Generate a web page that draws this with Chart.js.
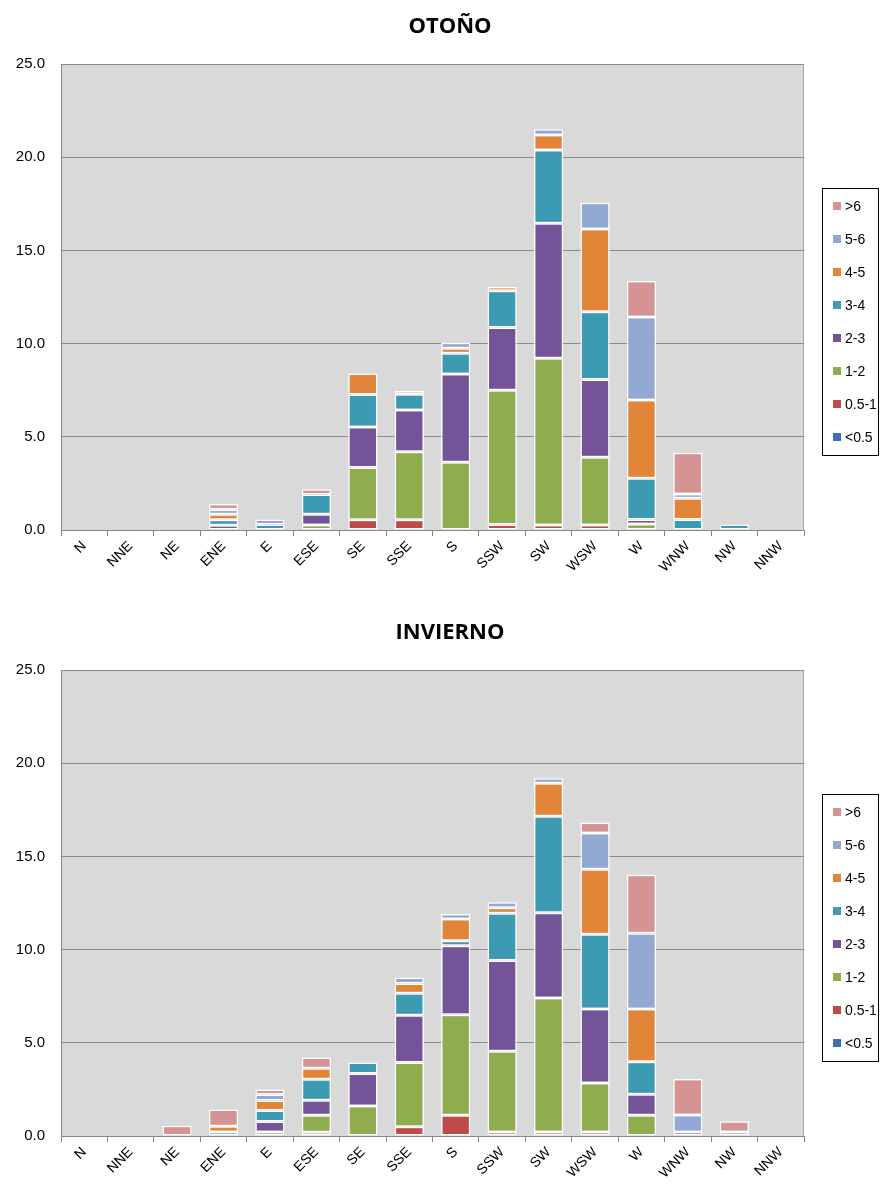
<!DOCTYPE html>
<html>
<head>
<meta charset="utf-8">
<script src="https://cdn.jsdelivr.net/npm/chart.js@4.4.1/dist/chart.umd.min.js"></script>
<style>
  body { margin: 0; background: #fff; width: 892px; height: 1190px; overflow: hidden; position: relative; }
  .panel { position: absolute; left: 0; width: 892px; height: 590px; }
  #otono-wrap { top: 0; }
  #invierno-wrap { top: 606px; }
</style>
</head>
<body>
<div class="panel" id="otono-wrap"><canvas id="otono-chart" width="892" height="590"></canvas></div>
<div class="panel" id="invierno-wrap"><canvas id="invierno-chart" width="892" height="590"></canvas></div>
<script>
// Wind directions (categories)
const directions = ['N', 'NNE', 'NE', 'ENE', 'E', 'ESE', 'SE', 'SSE', 'S', 'SSW', 'SW', 'WSW', 'W', 'WNW', 'NW', 'NNW'];

// Speed classes, bottom of the stack first
const speedClasses = ['<0.5', '0.5-1', '1-2', '2-3', '3-4', '4-5', '5-6', '>6'];
const classColors = ['#3f6fae', '#be4b48', '#8fad4f', '#735498', '#3c9ab3', '#e28538', '#93a9d3', '#d69393'];

// OTOÑO - frequency (%) per speed class
const otonoLt05 = [0, 0, 0, 0, 0, 0, 0, 0, 0, 0, 0, 0, 0, 0, 0, 0];
const otono05a1 = [0, 0, 0, 0, 0, 0, 0.55, 0.55, 0, 0.3, 0.27, 0.27, 0, 0, 0, 0];
const otono1a2 = [0, 0, 0, 0, 0, 0.27, 2.8, 3.65, 3.63, 7.2, 8.94, 3.63, 0.32, 0, 0, 0];
const otono2a3 = [0, 0, 0, 0.25, 0, 0.57, 2.18, 2.24, 4.74, 3.36, 7.24, 4.18, 0.25, 0, 0, 0];
const otono3a4 = [0, 0, 0, 0.3, 0.3, 1.07, 1.74, 0.84, 1.11, 1.97, 3.94, 3.63, 2.2, 0.57, 0.3, 0];
const otono4a5 = [0, 0, 0, 0.3, 0, 0, 1.13, 0.18, 0.27, 0.21, 0.8, 4.44, 4.2, 1.13, 0, 0];
const otono5a6 = [0, 0, 0, 0.25, 0.27, 0, 0, 0, 0.3, 0, 0.31, 1.41, 4.46, 0.23, 0, 0];
const otonoGt6 = [0, 0, 0, 0.3, 0, 0.28, 0, 0, 0, 0, 0, 0, 1.93, 2.22, 0, 0];

// INVIERNO - frequency (%) per speed class
const inviernoLt05 = [0, 0, 0, 0, 0, 0, 0, 0, 0, 0, 0, 0, 0, 0, 0, 0];
const invierno05a1 = [0, 0, 0, 0, 0, 0.2, 0, 0.5, 1.11, 0.22, 0.22, 0.22, 0, 0, 0, 0];
const invierno1a2 = [0, 0, 0, 0, 0.21, 0.91, 1.61, 3.44, 5.39, 4.32, 7.19, 2.62, 1.11, 0, 0, 0];
const invierno2a3 = [0, 0, 0, 0, 0.57, 0.81, 1.74, 2.54, 3.71, 4.87, 4.57, 3.98, 1.13, 0.22, 0, 0];
const invierno3a4 = [0, 0, 0, 0.22, 0.59, 1.13, 0.59, 1.18, 0.27, 2.54, 5.18, 4.0, 1.74, 0, 0, 0];
const invierno4a5 = [0, 0, 0, 0.3, 0.54, 0.59, 0, 0.52, 1.16, 0.29, 1.76, 3.49, 2.83, 0, 0, 0];
const invierno5a6 = [0, 0, 0, 0, 0.32, 0, 0, 0.32, 0.27, 0.3, 0.27, 1.95, 4.07, 0.9, 0.22, 0];
const inviernoGt6 = [0, 0, 0.55, 0.9, 0.27, 0.57, 0, 0, 0, 0, 0, 0.56, 3.14, 1.94, 0.57, 0];

// Y axis ticks
const yMin = 0;
const yMax = 25;
const yStep = 5;

// Grey plot area with a thin frame
const plotBackground = {
  id: 'plotBackground',
  beforeDraw(chart) {
    const { ctx, chartArea: a } = chart;
    ctx.save();
    ctx.fillStyle = '#d9d9d9';
    ctx.fillRect(a.left, a.top, a.right - a.left, a.bottom - a.top);
    ctx.strokeStyle = '#a6a6a6';
    ctx.lineWidth = 1;
    ctx.strokeRect(a.left + 0.5, a.top + 0.5, a.right - a.left - 1, a.bottom - a.top);
    ctx.restore();
  }
};

// Title centred on the whole picture, not on the plot
const pageTitle = {
  id: 'pageTitle',
  afterDraw(chart, args, opts) {
    const ctx = chart.ctx;
    ctx.save();
    ctx.font = 'bold 22px "Open Sans", sans-serif';
    ctx.fillStyle = '#000';
    ctx.textAlign = 'center';
    ctx.textBaseline = 'middle';
    ctx.fillText(opts.text, opts.x, opts.y);
    ctx.restore();
  }
};

// Boxed legend on the right, top class first
const boxLegend = {
  id: 'boxLegend',
  afterDraw(chart, args, opts) {
    const ctx = chart.ctx;
    ctx.save();
    ctx.strokeStyle = '#000';
    ctx.lineWidth = 1;
    ctx.strokeRect(opts.x + 0.5, opts.y + 0.5, opts.width, opts.height);
    ctx.font = '14px "Liberation Sans", Arial, sans-serif';
    ctx.textBaseline = 'middle';
    ctx.textAlign = 'left';
    const items = chart.data.datasets.slice().reverse();
    items.forEach((ds, i) => {
      const cy = opts.y + opts.first + i * opts.step;
      ctx.fillStyle = ds.backgroundColor;
      ctx.fillRect(opts.x + 11, cy - 4, 8, 8);
      ctx.fillStyle = '#000';
      ctx.fillText(ds.label, opts.x + 23, cy + 1);
    });
    ctx.restore();
  }
};

function buildChart(canvas, title, series) {
  return new Chart(canvas, {
    type: 'bar',
    data: {
      labels: directions,
      datasets: speedClasses.map((label, i) => ({
        label: label,
        data: series[i],
        backgroundColor: classColors[i],
        borderColor: '#ffffff',
        borderWidth: 1.5,
        borderSkipped: false,
        barPercentage: 0.63,
        categoryPercentage: 1
      }))
    },
    options: {
      responsive: false,
      animation: false,
      layout: { padding: { left: 0, right: 88, top: 64, bottom: 0 } },
      plugins: {
        legend: { display: false },
        tooltip: { enabled: false },
        title: { display: false },
        pageTitle: { text: title, x: 450, y: 27 },
        boxLegend: { x: 822, y: 188, width: 56, height: 267, first: 18, step: 33 }
      },
      scales: {
        x: {
          stacked: true,
          grid: { offset: true, drawOnChartArea: false, color: '#888', tickLength: 6 },
          border: { color: '#888' },
          ticks: {
            autoSkip: false,
            minRotation: 45,
            maxRotation: 45,
            color: '#000',
            padding: 2,
            font: { family: '"Liberation Sans", Arial, sans-serif', size: 14 }
          },
          afterFit: (s) => { s.height = 60; }
        },
        y: {
          stacked: true,
          min: yMin,
          max: yMax,
          ticks: {
            stepSize: yStep,
            callback: (v) => v.toFixed(1),
            color: '#000',
            padding: 16,
            font: { family: '"Liberation Sans", Arial, sans-serif', size: 15 }
          },
          grid: { color: '#8a8a8a', drawTicks: false },
          border: { color: '#8a8a8a' },
          afterFit: (s) => { s.width = 61; }
        }
      }
    },
    plugins: [plotBackground, pageTitle, boxLegend]
  });
}

buildChart(document.getElementById('otono-chart'), 'OTOÑO',
  [otonoLt05, otono05a1, otono1a2, otono2a3, otono3a4, otono4a5, otono5a6, otonoGt6]);
buildChart(document.getElementById('invierno-chart'), 'INVIERNO',
  [inviernoLt05, invierno05a1, invierno1a2, invierno2a3, invierno3a4, invierno4a5, invierno5a6, inviernoGt6]);
</script>
</body>
</html>
